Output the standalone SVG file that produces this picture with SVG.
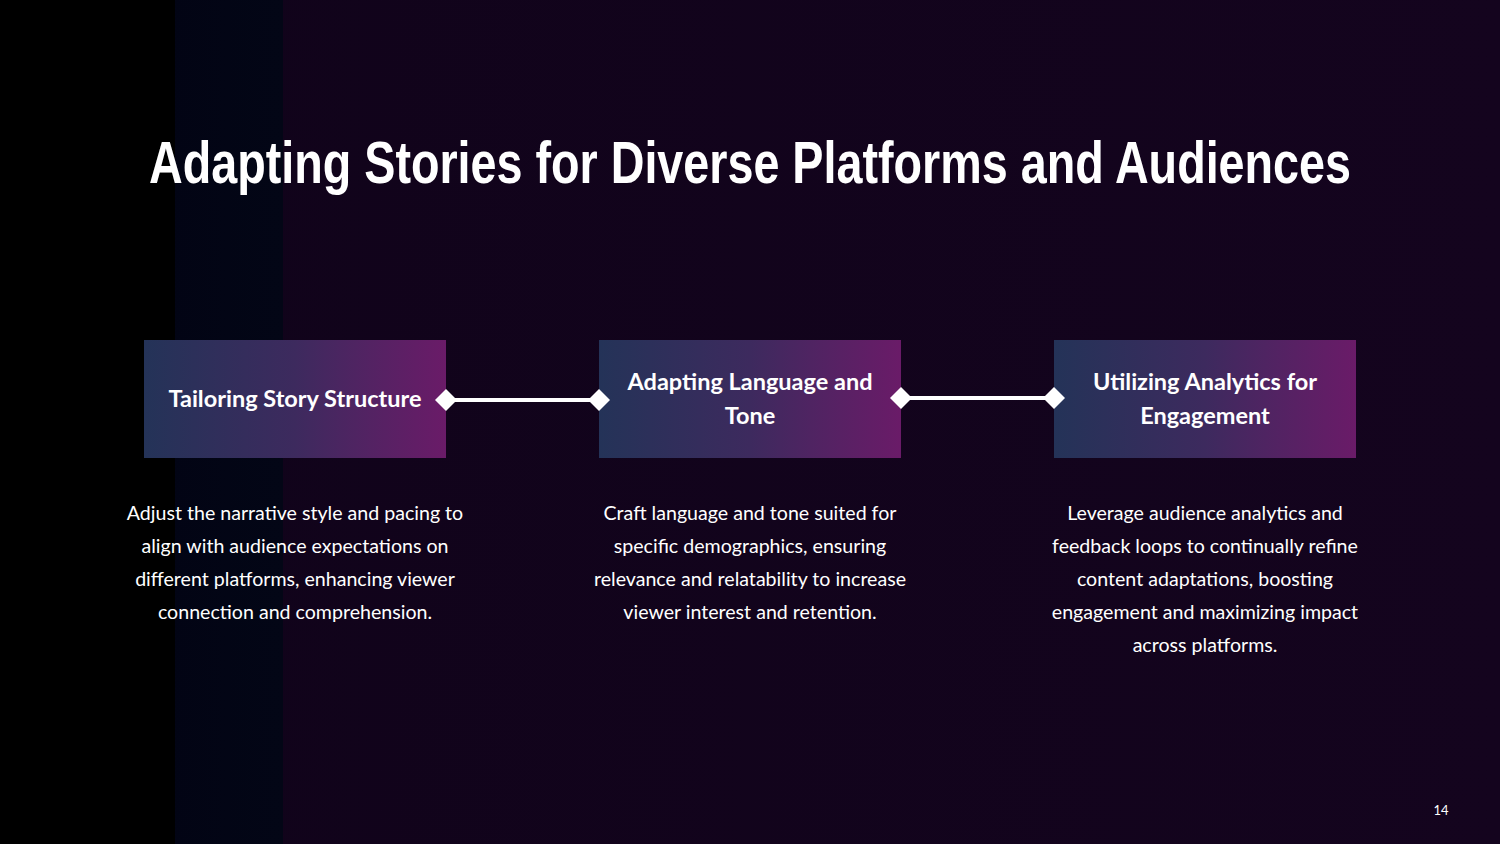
<svg xmlns="http://www.w3.org/2000/svg" width="1500" height="844" viewBox="0 0 1500 844">
<defs>
<linearGradient id="bg" x1="0" y1="0" x2="1" y2="0">
<stop offset="0" stop-color="#10031a"/><stop offset="1" stop-color="#14041e"/>
</linearGradient>
<linearGradient id="box" x1="0" y1="0" x2="1" y2="0">
<stop offset="0" stop-color="#243358"/><stop offset="0.5" stop-color="#3d2a5e"/><stop offset="1" stop-color="#6a1b68"/>
</linearGradient>
<linearGradient id="strip" x1="0" y1="0" x2="1" y2="0">
<stop offset="0" stop-color="#000000"/><stop offset="0.6" stop-color="#020414"/><stop offset="1" stop-color="#030616"/>
</linearGradient>
<style>
.h{font-family:Lato,"Open Sans",sans-serif;font-weight:bold;font-size:23.5px;fill:#fff;text-anchor:middle}
.b{font-family:Lato,"Open Sans",sans-serif;font-size:19.6px;fill:#fff;text-anchor:middle}
.d{fill:#fff}
</style>
</defs>
<rect width="1500" height="844" fill="url(#bg)"/>
<rect width="283" height="844" fill="url(#strip)"/>
<rect width="175" height="844" fill="#000"/>
<text x="750" y="183" font-family="'Liberation Sans',Arial,sans-serif" font-weight="bold" font-size="60" fill="#fff" text-anchor="middle" textLength="1202" lengthAdjust="spacingAndGlyphs">Adapting Stories for Diverse Platforms and Audiences</text>
<g id="connectors" stroke="#fff" stroke-width="4">
<line x1="446" y1="400" x2="599" y2="400"/>
<line x1="901" y1="398" x2="1054" y2="398"/>
</g>
<g id="node1">
<rect x="144" y="340" width="302" height="118" fill="url(#box)"/>
<text class="h" x="295" y="407">Tailoring Story Structure</text>
<text class="b"><tspan x="295" y="520">Adjust the narrative style and pacing to</tspan><tspan x="295" y="553">align with audience expectations on</tspan><tspan x="295" y="586">different platforms, enhancing viewer</tspan><tspan x="295" y="619">connection and comprehension.</tspan></text>
</g>
<g id="node2">
<rect x="599" y="340" width="302" height="118" fill="url(#box)"/>
<text class="h"><tspan x="750" y="390">Adapting Language and</tspan><tspan x="750" y="424">Tone</tspan></text>
<text class="b"><tspan x="750" y="520">Craft language and tone suited for</tspan><tspan x="750" y="553">specific demographics, ensuring</tspan><tspan x="750" y="586">relevance and relatability to increase</tspan><tspan x="750" y="619">viewer interest and retention.</tspan></text>
</g>
<g id="node3">
<rect x="1054" y="340" width="302" height="118" fill="url(#box)"/>
<text class="h"><tspan x="1205" y="390">Utilizing Analytics for</tspan><tspan x="1205" y="424">Engagement</tspan></text>
<text class="b"><tspan x="1205" y="520">Leverage audience analytics and</tspan><tspan x="1205" y="553">feedback loops to continually refine</tspan><tspan x="1205" y="586">content adaptations, boosting</tspan><tspan x="1205" y="619">engagement and maximizing impact</tspan><tspan x="1205" y="652">across platforms.</tspan></text>
</g>
<g id="markers">
<polygon class="d" points="435,400 446,389 457,400 446,411"/>
<polygon class="d" points="588,400 599,389 610,400 599,411"/>
<polygon class="d" points="890,398 901,387 912,398 901,409"/>
<polygon class="d" points="1043,398 1054,387 1065,398 1054,409"/>
</g>
<text x="1441" y="815" font-family="Lato,sans-serif" font-size="13" fill="#fff" text-anchor="middle">14</text>
</svg>
